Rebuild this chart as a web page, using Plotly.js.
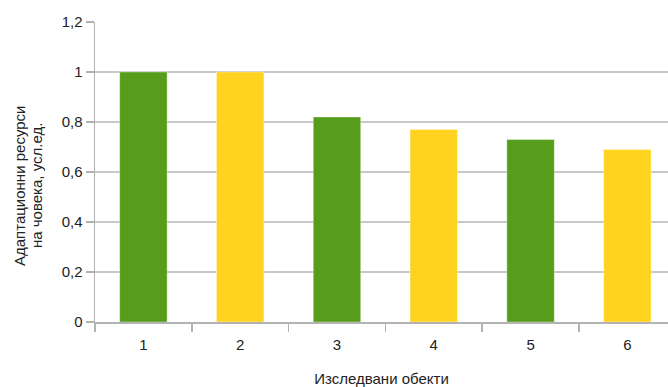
<!DOCTYPE html>
<html><head><meta charset="utf-8">
<script src="https://cdn.plot.ly/plotly-3.0.1.min.js"></script>
<style>html,body{margin:0;padding:0;background:#fff;}#chart{width:668px;height:387px;}</style>
</head><body><div id="chart"></div>
<script>
const categories = ["1","2","3","4","5","6"];
const values = [1, 1, 0.82, 0.77, 0.73, 0.69];
const barColors = ["#579d1c","#ffd320","#579d1c","#ffd320","#579d1c","#ffd320"];
const yTicks = [0,0.2,0.4,0.6,0.8,1,1.2];
const yTickText = ["0","0,2","0,4","0,6","0,8","1","1,2"];
const xTitle = "Изследвани обекти";
const yTitleLines = ["Адаптационни ресурси", "на човека, усл.ед."];

const L = 95, W = 573, T = 22, H = 300;
function px(x){ return (x - L) / W; }
function py(y){ return (T + H - y) / H; }

Plotly.newPlot("chart", [{
  type: "bar", x: categories, y: values,
  marker: {color: barColors, line: {color: "rgba(255,255,255,0.35)", width: 1}},
  hoverinfo: "none"
}], {
  width: 668, height: 387,
  margin: {l: L, r: 668 - L - W, t: T, b: 387 - T - H},
  paper_bgcolor: "#fff", plot_bgcolor: "#fff",
  bargap: 0.51,
  showlegend: false,
  font: {family: "Liberation Sans, Arial, sans-serif", color: "#222", size: 15},
  xaxis: {
    type: "category", range: [-0.5, 5.42],
    showline: true, linecolor: "#b3b3b3", linewidth: 1.5,
    ticks: "outside", tickson: "boundaries", ticklen: 8, tickcolor: "#b3b3b3", tickwidth: 1.5,
    showgrid: false, tickfont: {size: 15}, ticklabelstandoff: 8,
    title: {text: xTitle, font: {size: 15}, standoff: 22}
  },
  yaxis: {
    range: [0, 1.2], tickvals: yTicks, ticktext: yTickText,
    showline: true, linecolor: "#b3b3b3", linewidth: 1.5,
    ticks: "outside", ticklen: 8, tickcolor: "#b3b3b3", tickwidth: 1.5,
    showgrid: true, gridcolor: "#c8c8c8", gridwidth: 1.5, zeroline: false,
    tickfont: {size: 15}
  },
  annotations: [
    {text: yTitleLines[0], xref: "paper", yref: "paper", x: px(19), y: py(186),
     xanchor: "center", yanchor: "middle", textangle: -90, showarrow: false, font: {size: 15}},
    {text: yTitleLines[1], xref: "paper", yref: "paper", x: px(36), y: py(186),
     xanchor: "center", yanchor: "middle", textangle: -90, showarrow: false, font: {size: 15}}
  ]
}, {staticPlot: true});
</script></body></html>
